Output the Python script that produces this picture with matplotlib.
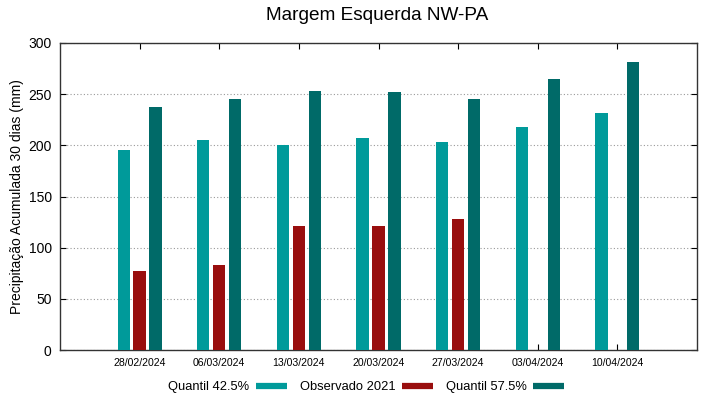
import numpy as np
import matplotlib.pyplot as plt
from matplotlib.lines import Line2D

plt.rcParams['font.family'] = ['Liberation Sans', 'DejaVu Sans']

dates = ['28/02/2024', '06/03/2024', '13/03/2024', '20/03/2024',
         '27/03/2024', '03/04/2024', '10/04/2024']
q425 = [195, 205, 200, 207, 203, 218, 232]
obs2021 = [77, 83, 121, 121, 128, np.nan, np.nan]
q575 = [237, 245, 253, 252, 245, 265, 281]

c_q425 = '#009a9a'
c_obs = '#990e0e'
c_q575 = '#006a68'

fig = plt.figure(figsize=(7.19, 3.99), dpi=100)
ax = fig.add_axes([60 / 719, 1 - 350 / 399, 637 / 719, 307 / 399])

x = np.arange(len(dates))
w = 0.155
ax.bar(x - 0.2, q425, w, color=c_q425, zorder=3)
ax.bar(x, obs2021, w, color=c_obs, zorder=3)
ax.bar(x + 0.2, q575, w, color=c_q575, zorder=3)

ax.set_xlim(-1, 7)
ax.set_ylim(0, 300)
ax.set_yticks(np.arange(0, 301, 50))
ax.set_xticks(x)
ax.set_xticklabels(dates, fontsize=7.6)
ax.tick_params(axis='y', labelsize=10, direction='in', length=4.5, right=True, pad=6)
ax.tick_params(axis='x', direction='in', length=4.5, top=True, pad=6)
ax.yaxis.grid(True, linestyle=(0, (1, 2)), color='#999999', linewidth=0.8, zorder=0)
for s in ax.spines.values():
    s.set_linewidth(1.0)
    s.set_color('#333333')

ax.set_ylabel('Precipitação Acumulada 30 dias (mm)', fontsize=10, labelpad=3)
fig.text(377 / 719, 1 - 16 / 399, 'Margem Esquerda NW-PA', fontsize=13.7,
         ha='center', va='center')

handles = [Line2D([], [], color=c, linewidth=4.5, solid_capstyle='butt')
           for c in (c_q425, c_obs, c_q575)]
fig.legend(handles, ['Quantil 42.5%', 'Observado 2021', 'Quantil 57.5%'],
           loc='center', bbox_to_anchor=(366 / 719, 1 - 387 / 399), ncol=3,
           frameon=False, markerfirst=False, fontsize=9.3, handlelength=2.4,
           handletextpad=0.5, columnspacing=1.0)

fig.savefig('out.png', dpi=100)
